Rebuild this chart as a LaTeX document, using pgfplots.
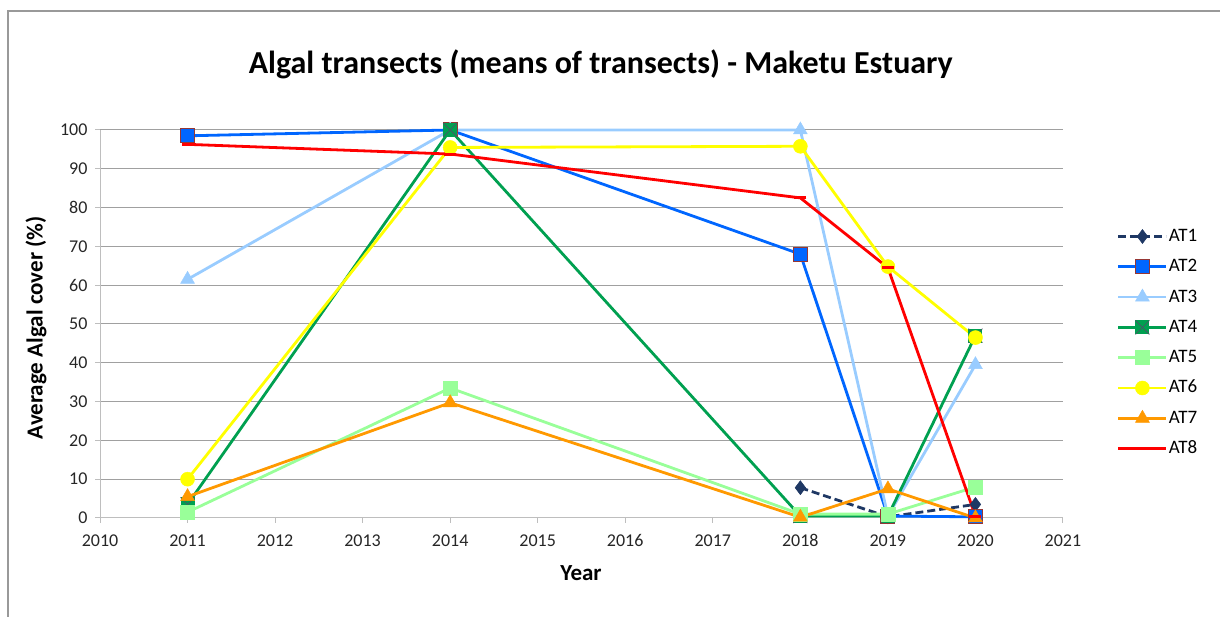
\documentclass[border=0pt]{standalone}
\usepackage{fontspec}
\setmainfont{Carlito}
\usepackage{pgfplots}
\pgfplotsset{compat=1.18}
\definecolor{cAone}{RGB}{31,56,100}
\definecolor{cAtwo}{RGB}{0,102,255}
\definecolor{cAtwoB}{RGB}{150,55,53}
\definecolor{cAthree}{RGB}{153,204,255}
\definecolor{cAfour}{RGB}{0,160,80}
\definecolor{cAfourX}{RGB}{70,90,100}
\definecolor{cAfive}{RGB}{153,255,153}
\definecolor{cAsix}{RGB}{255,255,0}
\definecolor{cAseven}{RGB}{255,153,0}
\definecolor{cAeight}{RGB}{255,0,0}
\definecolor{gridc}{RGB}{160,160,160}
\definecolor{axc}{RGB}{190,190,190}
\pgfdeclareplotmark{sqx}{%
  \pgfpathrectangle{\pgfqpoint{-\pgfplotmarksize}{-\pgfplotmarksize}}{\pgfqpoint{2\pgfplotmarksize}{2\pgfplotmarksize}}%
  \pgfusepathqfill
  \pgfsetlinewidth{0.8pt}%
  \pgfpathmoveto{\pgfqpoint{-\pgfplotmarksize}{-\pgfplotmarksize}}\pgfpathlineto{\pgfqpoint{\pgfplotmarksize}{\pgfplotmarksize}}%
  \pgfpathmoveto{\pgfqpoint{-\pgfplotmarksize}{\pgfplotmarksize}}\pgfpathlineto{\pgfqpoint{\pgfplotmarksize}{-\pgfplotmarksize}}%
  \pgfusepathqstroke}
\begin{document}
\begin{tikzpicture}[x=1pt,y=1pt]
\useasboundingbox (0,0) rectangle (1220,617);
\draw[gray!80, line width=1.2pt] (8,-5) -- (8,606) -- (1225,606);
\begin{axis}[
  at={(100pt,99pt)}, anchor=south west,
  scale only axis, width=963pt, height=388pt,
  xmin=2010, xmax=2021, ymin=0, ymax=100,
  xtick={2010,...,2021}, ytick={0,10,...,100},
  /pgf/number format/1000 sep={},
  /pgf/number format/assume math mode=true,
  axis x line*=bottom, axis y line*=left,
  axis line style={draw=axc, line width=1pt, -},
  ymajorgrids, grid style={draw=gridc, line width=1pt},
  tick align=outside, major tick length=5pt,
  major tick style={draw=axc, line width=1pt},
  ticklabel style={font=\fontsize{18}{20}\selectfont, text=black!85},
  yticklabel shift=4pt,
  xticklabel shift=8pt,
  title={\bfseries Algal transects (means of transects) - Maketu Estuary},
  title style={font=\fontsize{32}{36}\selectfont, at={(axis description cs:0.520,1.155)}, anchor=center},
  xlabel={\bfseries Year},
  xlabel style={font=\fontsize{23}{26}\selectfont, at={(axis description cs:0.4995,-0.142)}, anchor=center},
  ylabel={\bfseries Average Algal cover (\%)},
  ylabel style={font=\fontsize{23}{26}\selectfont, at={(axis description cs:-0.0665,0.49)}, anchor=center, rotate=0},
  legend cell align=left,
  legend style={draw=none, fill=none, inner sep=0pt, outer sep=0pt,
    at={(axis description cs:1.0561,0.7487)}, anchor=north west,
    font=\fontsize{19}{21}\selectfont, row sep=12.3pt,
    nodes={text height=13pt, text depth=3pt, inner sep=1pt}},
  legend image code/.code={%
    \draw[mark repeat=2,mark phase=2,#1] plot coordinates {(0pt,0pt)(24pt,0pt)(48pt,0pt)};},
  clip=false,
]
\addplot[color=cAone, line width=2.8pt, dash pattern=on 8pt off 4pt, mark=diamond*, mark size=7pt, mark options={solid, fill=cAone, draw=cAone, line width=0.5pt}]
  coordinates {(2018,7.8)(2019,0.3)(2020,3.5)};
\addlegendentry{AT1}
\addplot[color=cAtwo, line width=2.8pt, mark=square*, mark size=7pt, mark options={fill=cAtwo, draw=cAtwoB, line width=1pt}]
  coordinates {(2011,98.5)(2014,100)(2018,68)(2019,0.5)(2020,0.3)};
\addlegendentry{AT2}
\addplot[color=cAthree, line width=2.8pt, mark=triangle*, mark size=8pt, mark options={fill=cAthree, draw=cAthree, line width=0.5pt}]
  coordinates {(2011,61.5)(2014,100)(2018,100)(2019,0.5)(2020,39.5)};
\addlegendentry{AT3}
\addplot[color=cAfour, line width=2.8pt, mark=sqx, mark size=7pt, mark options={fill=cAfour, draw=cAfourX}]
  coordinates {(2011,3.5)(2014,100)(2018,0.5)(2019,0.5)(2020,47)};
\addlegendentry{AT4}
\addplot[color=cAfive, line width=2.8pt, mark=square*, mark size=7pt, mark options={fill=cAfive, draw=cAfive, line width=0.5pt}]
  coordinates {(2011,1.5)(2014,33.5)(2018,1.0)(2019,1.0)(2020,8)};
\addlegendentry{AT5}
\addplot[color=cAsix, line width=2.8pt, mark=*, mark size=7pt, mark options={fill=cAsix, draw=cAsix, line width=0.5pt}]
  coordinates {(2011,10)(2014,95.5)(2018,95.8)(2019,64.8)(2020,46.5)};
\addlegendentry{AT6}
\addplot[color=cAseven, line width=2.8pt, mark=triangle*, mark size=8pt, mark options={fill=cAseven, draw=cAseven, line width=0.5pt}]
  coordinates {(2011,5.5)(2014,29.7)(2018,0.2)(2019,7.5)(2020,0)};
\addlegendentry{AT7}
\addplot[color=cAeight, line width=2.8pt, mark=-, mark size=6pt, mark options={draw=cAeight, line width=3pt}]
  coordinates {(2011,96.3)(2014,93.8)(2018,82.5)(2019,64.5)(2020,0.5)};
\addlegendentry{AT8}
\end{axis}
\end{tikzpicture}
\end{document}
